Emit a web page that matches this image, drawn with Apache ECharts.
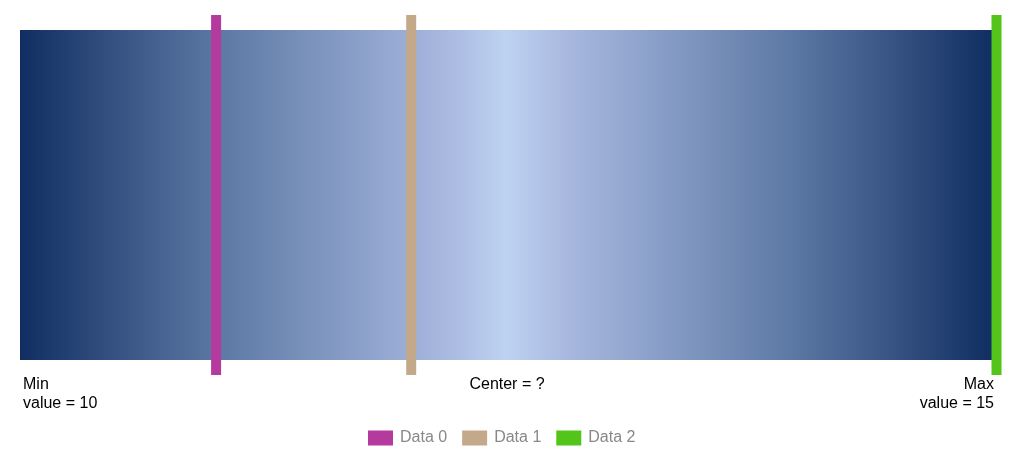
<!DOCTYPE html>
<html>
<head>
<meta charset="utf-8">
<script src="https://cdn.jsdelivr.net/npm/echarts@6/dist/echarts.min.js"></script>
<style>html,body{margin:0;padding:0;background:#fff;}#c{width:1017px;height:460px;}</style>
</head>
<body>
<div id="c"></div>
<script>
var rangeMin = 10;
var rangeMax = 15;
var centerLabel = 'Center = ?';
var seriesNames = ['Data 0', 'Data 1', 'Data 2'];
var seriesValues = [11, 12, 15];
var seriesColors = ['#b43a9d', '#c4a88a', '#52c41a'];

var FONT = '"Liberation Sans", Arial, sans-serif';
var chart = echarts.init(document.getElementById('c'), null, {renderer: 'canvas'});

var gradient = new echarts.graphic.LinearGradient(0, 0, 1, 0, [
  {offset: 0, color: '#112e62'},
  {offset: 0.2, color: '#5a77a3'},
  {offset: 0.44, color: '#a9b9e0'},
  {offset: 0.5, color: '#bed2f1'},
  {offset: 0.56, color: '#a9b9e0'},
  {offset: 0.8, color: '#5a77a3'},
  {offset: 1, color: '#112e62'}
]);

var series = [{
  type: 'custom',
  name: 'range',
  silent: true,
  xAxisIndex: 0,
  yAxisIndex: 0,
  data: [[rangeMin, rangeMax]],
  renderItem: function (params, api) {
    var p0 = api.coord([api.value(0), 1]);
    var p1 = api.coord([api.value(1), 0]);
    var mid = (p0[0] + p1[0]) / 2;
    var ty = p1[1] + 15;
    var ts = {fill: '#000', font: '16px ' + FONT, lineHeight: 19, verticalAlign: 'top'};
    return {
      type: 'group',
      children: [
        {type: 'rect', shape: {x: p0[0], y: p0[1], width: p1[0] - p0[0], height: p1[1] - p0[1]}, style: {fill: gradient}},
        {type: 'text', x: p0[0] + 3, y: ty, style: Object.assign({}, ts, {text: 'Min\nvalue = ' + api.value(0), align: 'left'})},
        {type: 'text', x: mid + 1, y: ty, style: Object.assign({}, ts, {text: centerLabel, align: 'center'})},
        {type: 'text', x: p1[0] + 2, y: ty, style: Object.assign({}, ts, {text: 'Max\nvalue = ' + api.value(1), align: 'right'})}
      ]
    };
  },
  z: 1
}];

seriesNames.forEach(function (name, i) {
  series.push({
    type: 'custom',
    name: name,
    color: seriesColors[i],
    xAxisIndex: 1,
    yAxisIndex: 1,
    data: [[seriesValues[i]]],
    renderItem: function (params, api) {
      var top = api.coord([api.value(0), 1]);
      var bot = api.coord([api.value(0), 0]);
      return {
        type: 'rect',
        shape: {x: top[0] - 5, y: top[1], width: 10, height: bot[1] - top[1]},
        style: {fill: api.visual('color')}
      };
    },
    z: 2
  });
});

chart.setOption({
  animation: false,
  backgroundColor: '#fff',
  grid: [
    {left: 20, right: 25, top: 30, bottom: 100},
    {left: 21, right: 20.5, top: 15, bottom: 85}
  ],
  xAxis: [
    {type: 'value', gridIndex: 0, min: rangeMin, max: rangeMax, show: false},
    {type: 'value', gridIndex: 1, min: rangeMin, max: rangeMax, show: false}
  ],
  yAxis: [
    {type: 'value', gridIndex: 0, min: 0, max: 1, show: false},
    {type: 'value', gridIndex: 1, min: 0, max: 1, show: false}
  ],
  legend: {
    data: seriesNames,
    left: 363,
    top: 425,
    icon: 'rect',
    itemWidth: 25,
    itemHeight: 15,
    itemGap: 15,
    textStyle: {color: '#888', fontSize: 16, fontFamily: FONT, padding: [0, 0, 0, 2]}
  },
  series: series
});
</script>
</body>
</html>
